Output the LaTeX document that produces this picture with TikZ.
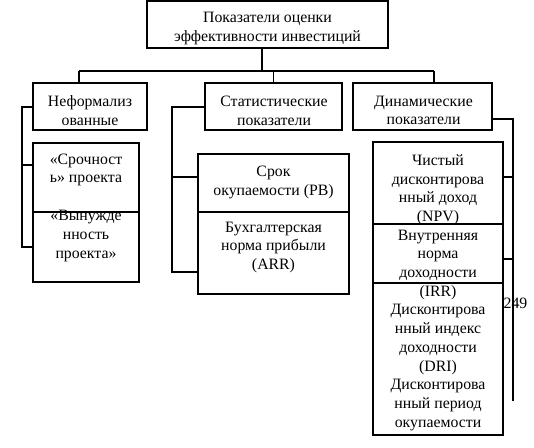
\documentclass[tikz,border=0pt]{standalone}
\usepackage{fontspec}
\setmainfont{Liberation Serif}
\begin{document}
\begin{tikzpicture}[x=1pt,y=-1pt,
  box/.style={draw, line width=1.1pt, inner sep=0pt, outer sep=0pt},
  txt/.style={align=center, font=\fontsize{15.8}{18.7}\selectfont, inner sep=0pt},
  ln/.style={line width=1.1pt}]
\useasboundingbox (0,0) rectangle (534,447);
% boxes
\node[box, minimum width=241pt, minimum height=47pt] (top) at (267.5,24.5) {};
\node[box, minimum width=114pt, minimum height=47pt] (b1) at (90,106.5) {};
\node[box, minimum width=137pt, minimum height=47pt] (b2) at (273.5,106.5) {};
\node[box, minimum width=139pt, minimum height=47pt] (b3) at (422.5,106.5) {};
\node[box, minimum width=106pt, minimum height=139pt] (nb) at (86,212.5) {};
\node[box, minimum width=151pt, minimum height=140pt] (sb) at (273.5,224) {};
\node[box, minimum width=130pt, minimum height=293pt] (db) at (438,288.5) {};
% texts
\node[txt] (t0) at (267.5,28.5) {Показатели оценки\\эффективности инвестиций};
\node[txt] (t1) at (90,110.5) {Неформализ\\ованные};
\node[txt] (t2) at (274,110.5) {Статистические\\показатели};
\node[txt] (t3) at (423.5,110.5) {Динамические\\показатели};
\node[txt] (n1) at (86,170) {«Срочност\\ь» проекта};
\node[txt] (n2) at (86,236) {«Вынужде\\нность\\проекта»};
\node[txt] (s1) at (273.5,182.5) {Срок\\окупаемости (PB)};
\node[txt] (s2) at (273.5,247.5) {Бухгалтерская\\норма прибыли\\(ARR)};
\node[txt] (d1) at (438,292.5) {Чистый\\дисконтирова\\нный доход\\(NPV)\\Внутренняя\\норма\\доходности\\(IRR)\\Дисконтирова\\нный индекс\\доходности\\(DRI)\\Дисконтирова\\нный период\\окупаемости};
\node[txt] (pg) at (515.5,303) {249};
% dividers
\coordinate (nd) at (0,212);
\draw[ln] (nb.west |- nd) -- (nb.east |- nd);
\draw[ln] (sb.west |- nd) -- (sb.east |- nd);
\coordinate (dd1) at (0,224);
\coordinate (dd2) at (0,283);
\draw[ln] (db.west |- dd1) -- (db.east |- dd1);
\draw[ln] (db.west |- dd2) -- (db.east |- dd2);
% tree connectors
\coordinate (bus) at (262,71);
\coordinate (bl) at (79,71);
\coordinate (br) at (434,71);
\draw[ln] (top.south -| bus) -- (bus);
\draw[ln] (bl) -- (br);
\draw[ln] (bl) -- (bl |- b1.north);
\draw[ln] (b2.north |- bus) -- (b2.north);
\draw[ln] (br) -- (br |- b3.north);
% left bracket
\coordinate (lk1) at (22,107);
\coordinate (lk2) at (22,247);
\coordinate (la) at (22,165);
\draw[ln] (b1.west |- lk1) -- (lk1) -- (lk2) -- (lk2 -| nb.west);
\draw[ln] (la) -- (la -| nb.west);
% stat bracket
\coordinate (sk1) at (172,107);
\coordinate (sk2) at (172,272);
\coordinate (sa) at (172,177);
\draw[ln] (b2.west |- sk1) -- (sk1) -- (sk2) -- (sk2 -| sb.west);
\draw[ln] (sa) -- (sa -| sb.west);
% right bracket
\coordinate (rk1) at (513,119);
\coordinate (rk2) at (513,401);
\coordinate (ra) at (513,177);
\coordinate (rb) at (513,259);
\draw[ln] (b3.east |- rk1) -- (rk1) -- (rk2);
\draw[ln] (ra) -- (ra -| db.east);
\draw[ln] (rb) -- (rb -| db.east);
\end{tikzpicture}
\end{document}
